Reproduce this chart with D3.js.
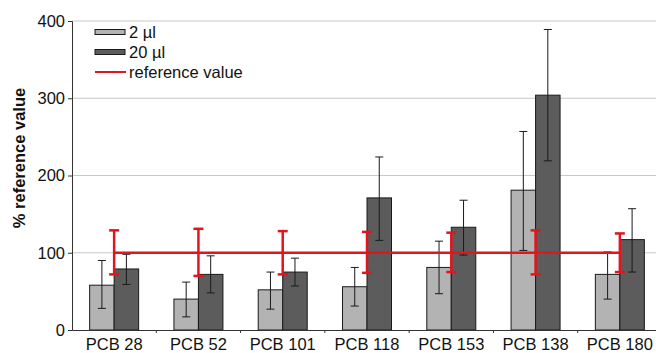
<!DOCTYPE html>
<html lang="en">
<head>
<meta charset="utf-8">
<title>PCB recovery</title>
<script src="https://d3js.org/d3.v7.min.js"></script>
<style>
  body { margin: 0; background: #fff; }
  svg text { font-family: "Liberation Sans", Arial, sans-serif; fill: #111; }
</style>
</head>
<body>
<div id="chart"></div>
<script>
// data
var categories = ["PCB 28", "PCB 52", "PCB 101", "PCB 118", "PCB 153", "PCB 138", "PCB 180"];
var series = ["2 µl", "20 µl"];
var val2 = [58, 40, 52, 56, 81, 181, 72];
var err2Hi = [90, 62, 75, 81, 115, 257, 101];
var err2Lo = [28, 17, 27, 31, 47, 103, 40];
var val20 = [79, 72, 75, 171, 133, 304, 117];
var err20Hi = [98, 96, 93, 224, 168, 389, 157];
var err20Lo = [59, 48, 57, 116, 97, 219, 75];
var refValue = 100;
var refHi = [129, 131, 128, 127, 126, 129, 125];
var refLo = [72, 70, 72, 74, 75, 72, 75];
var yTicks = [0, 100, 200, 300, 400];

var width = 656, height = 353;
var margin = {top: 21, left: 72, bottom: 23};
var plotRight = 662;
var fontSize = "16.5px";

var svg = d3.select("#chart").append("svg")
  .attr("width", width).attr("height", height);

var x = d3.scaleBand().domain(categories)
  .range([margin.left, plotRight]).paddingInner(0).paddingOuter(0);
var xs = d3.scaleBand().domain(series)
  .range([0, x.bandwidth()]).paddingInner(0).paddingOuter(0.72);
var y = d3.scaleLinear().domain([0, 400])
  .range([height - margin.bottom, margin.top]);

// gridlines
svg.append("g").selectAll("line").data(yTicks.slice(1)).enter().append("line")
  .attr("x1", margin.left).attr("x2", width)
  .attr("y1", function(d) { return y(d); }).attr("y2", function(d) { return y(d); })
  .attr("stroke", "#c8c8c8").attr("stroke-width", 1);

// bars
var rows = categories.map(function(c, i) {
  return [
    {cat: c, s: series[0], v: val2[i], hi: err2Hi[i], lo: err2Lo[i], fill: "#b3b3b3"},
    {cat: c, s: series[1], v: val20[i], hi: err20Hi[i], lo: err20Lo[i], fill: "#5c5c5c"}
  ];
});
var flat = [].concat.apply([], rows);

svg.append("g").selectAll("rect").data(flat).enter().append("rect")
  .attr("x", function(d) { return x(d.cat) + xs(d.s); })
  .attr("width", xs.bandwidth())
  .attr("y", function(d) { return y(d.v); })
  .attr("height", function(d) { return y(0) - y(d.v); })
  .attr("fill", function(d) { return d.fill; })
  .attr("stroke", "#1a1a1a").attr("stroke-width", 1);

// black error bars
var eb = svg.append("g").attr("stroke", "#1a1a1a").attr("stroke-width", 1);
flat.forEach(function(d) {
  var cx = x(d.cat) + xs(d.s) + xs.bandwidth() / 2;
  eb.append("line").attr("x1", cx).attr("x2", cx).attr("y1", y(d.hi)).attr("y2", y(d.lo));
  eb.append("line").attr("x1", cx - 4).attr("x2", cx + 4).attr("y1", y(d.hi)).attr("y2", y(d.hi));
  eb.append("line").attr("x1", cx - 4).attr("x2", cx + 4).attr("y1", y(d.lo)).attr("y2", y(d.lo));
});

// reference value line + red error bars
var red = "#e3141b";
var firstC = x(categories[0]) + x.bandwidth() / 2;
var lastC = x(categories[categories.length - 1]) + x.bandwidth() / 2;
svg.append("line")
  .attr("x1", firstC).attr("x2", lastC)
  .attr("y1", y(refValue)).attr("y2", y(refValue))
  .attr("stroke", red).attr("stroke-width", 2.5);
var rb = svg.append("g").attr("stroke", red).attr("stroke-width", 2.5);
categories.forEach(function(c, i) {
  var cx = x(c) + x.bandwidth() / 2;
  rb.append("line").attr("x1", cx).attr("x2", cx).attr("y1", y(refHi[i])).attr("y2", y(refLo[i]));
  rb.append("line").attr("x1", cx - 5).attr("x2", cx + 5).attr("y1", y(refHi[i])).attr("y2", y(refHi[i]));
  rb.append("line").attr("x1", cx - 5).attr("x2", cx + 5).attr("y1", y(refLo[i])).attr("y2", y(refLo[i]));
});

// y axis
var yAxis = svg.append("g").attr("transform", "translate(" + margin.left + ",0)")
  .call(d3.axisLeft(y).tickValues(yTicks).tickSize(4).tickPadding(3));
yAxis.select(".domain").attr("stroke", "#333");
yAxis.selectAll(".tick line").attr("stroke", "#333");
yAxis.selectAll("text").style("font-size", fontSize).attr("fill", "#111");

// x axis
var xAxis = svg.append("g").attr("transform", "translate(0," + y(0) + ")")
  .call(d3.axisBottom(x).tickSize(0).tickPadding(8));
xAxis.select(".domain").attr("stroke", "#333");
xAxis.selectAll("text").style("font-size", fontSize).attr("fill", "#111");
svg.append("g").selectAll("line").data(categories.slice(1)).enter().append("line")
  .attr("x1", function(d) { return x(d); }).attr("x2", function(d) { return x(d); })
  .attr("y1", y(0)).attr("y2", y(0) + 3)
  .attr("stroke", "#333");

// y label
svg.append("text")
  .attr("transform", "translate(25,158) rotate(-90)")
  .attr("text-anchor", "middle")
  .style("font-size", fontSize).style("font-weight", "bold")
  .text("% reference value");

// legend
var legend = svg.append("g").attr("transform", "translate(95,32)");
var legItems = [
  {label: series[0], type: "bar", fill: "#b3b3b3"},
  {label: series[1], type: "bar", fill: "#5c5c5c"},
  {label: "reference value", type: "line", fill: red}
];
legItems.forEach(function(d, i) {
  var g = legend.append("g").attr("transform", "translate(0," + i * 20 + ")");
  if (d.type === "bar") {
    g.append("rect").attr("x", 0).attr("y", -2.5).attr("width", 30).attr("height", 5)
      .attr("fill", d.fill).attr("stroke", "#1a1a1a").attr("stroke-width", 1);
  } else {
    g.append("line").attr("x1", 0).attr("x2", 31).attr("y1", 0).attr("y2", 0)
      .attr("stroke", d.fill).attr("stroke-width", 2);
  }
  g.append("text").attr("x", 34).attr("y", 5.5)
    .style("font-size", fontSize).text(d.label);
});
</script>
</body>
</html>
